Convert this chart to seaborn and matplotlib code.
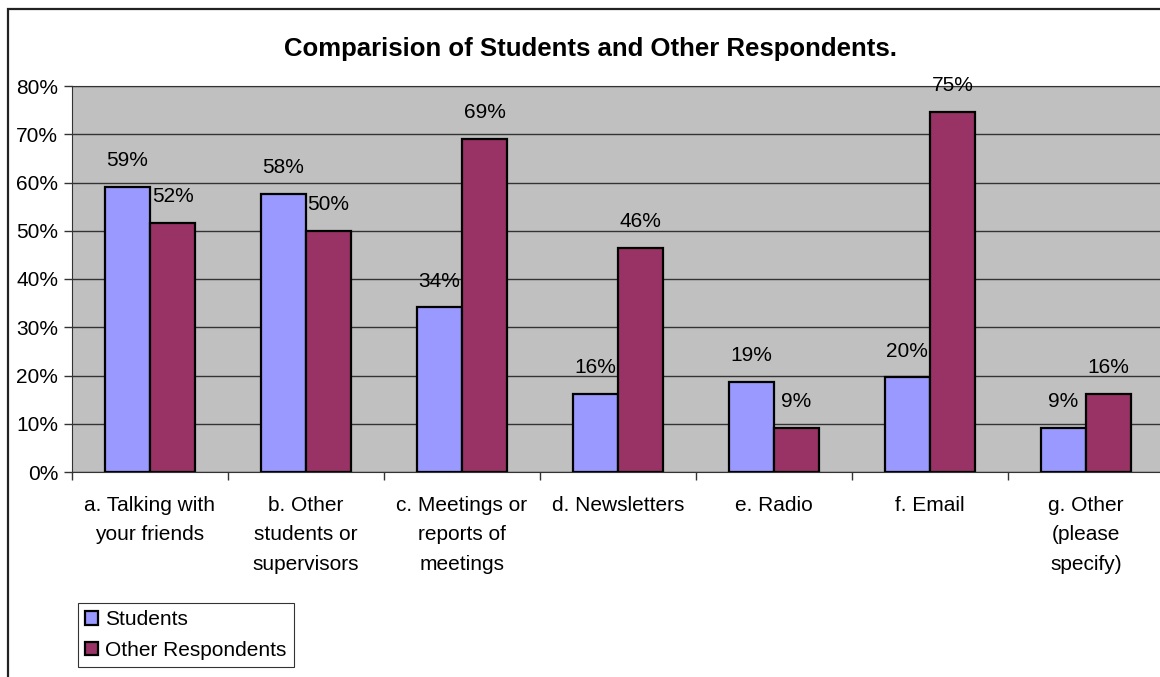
import seaborn as sns
import matplotlib.pyplot as plt
import matplotlib.patches as mpatches
import pandas as pd

categories = ["a. Talking with\nyour friends", "b. Other\nstudents or\nsupervisors",
              "c. Meetings or\nreports of\nmeetings", "d. Newsletters", "e. Radio",
              "f. Email", "g. Other\n(please\nspecify)"]
students = [59.1, 57.6, 34.1, 16.1, 18.7, 19.6, 9.1]
others = [51.7, 50.0, 69.1, 46.4, 9.1, 74.6, 16.1]
series = ["Students", "Other Respondents"]
yticks = [0, 10, 20, 30, 40, 50, 60, 70, 80]

df = pd.DataFrame({
    "Category": categories * 2,
    "Value": students + others,
    "Group": [series[0]] * len(categories) + [series[1]] * len(categories),
})

sns.set_style("white")
plt.rcParams["font.family"] = ["Liberation Sans", "DejaVu Sans"]
plt.rcParams["text.color"] = "black"
plt.rcParams["xtick.color"] = "black"
plt.rcParams["ytick.color"] = "black"

fig = plt.figure(figsize=(11.6, 6.77), dpi=100)
ax = fig.add_axes([72 / 1160, 1 - 472 / 677, 1092 / 1160, 386 / 677])
ax.set_facecolor("#C0C0C0")

sns.barplot(data=df, x="Category", y="Value", hue="Group", order=categories,
            palette=["#9999FF", "#993366"], width=0.58, edgecolor="black",
            linewidth=1.6, saturation=1, ax=ax)

# value labels
for cont in ax.containers:
    for bar in cont:
        h = bar.get_height()
        ax.annotate(f"{h:.0f}%", (bar.get_x() + bar.get_width() / 2, h),
                    xytext=(0, 19), textcoords="offset points",
                    ha="center", va="center", fontsize=15, color="black")

ax.set_ylim(0, 80)
ax.set_xlim(-0.5, len(categories) - 0.5)
ax.set_yticks(yticks)
ax.set_yticklabels([f"{t}%" for t in yticks], fontsize=15)
ax.yaxis.grid(True, color="#333333", linewidth=1)
ax.set_axisbelow(True)
ax.tick_params(axis="y", length=6, width=1, color="#333333", left=True, pad=4,
               labelcolor="black")

ax.set_xticks(range(len(categories)))
ax.set_xticklabels(categories, fontsize=15, linespacing=1.7, va="top")
ax.set_xticks([i - 0.5 for i in range(len(categories) + 1)], minor=True)
ax.tick_params(axis="x", which="major", length=0, pad=17, labelcolor="black")
ax.tick_params(axis="x", which="minor", length=6, width=1, color="#333333", bottom=True)
ax.set_xlabel("")
ax.set_ylabel("")

ax.spines["right"].set_visible(False)
ax.spines["top"].set_color("#333333")
ax.spines["left"].set_color("#333333")
ax.spines["bottom"].set_color("#333333")

fig.text(591 / 1160, 1 - 49 / 677, "Comparision of Students and Other Respondents.",
         ha="center", va="center", fontsize=18.5, fontweight="bold", color="black")

leg = ax.legend(loc="lower left", bbox_to_anchor=(78 / 1160, 1 - 667 / 677),
                bbox_transform=fig.transFigure, fontsize=15, frameon=True,
                fancybox=False, edgecolor="black", handlelength=0.6,
                handleheight=0.6, handletextpad=0.35, labelspacing=0.55,
                borderpad=0.35, borderaxespad=0)
leg.get_frame().set_linewidth(0.8)
for t in leg.get_texts():
    t.set_color("black")
for h in leg.legend_handles:
    h.set_edgecolor("black")
    h.set_linewidth(1.6)

# chart-area border
fig.patches.append(mpatches.Rectangle((7.5 / 1160, -0.1), 1.2, 1.1 - 9 / 677,
                                      transform=fig.transFigure, fill=False,
                                      edgecolor="#222222", linewidth=1.6))

fig.savefig("out.png", dpi=100)
